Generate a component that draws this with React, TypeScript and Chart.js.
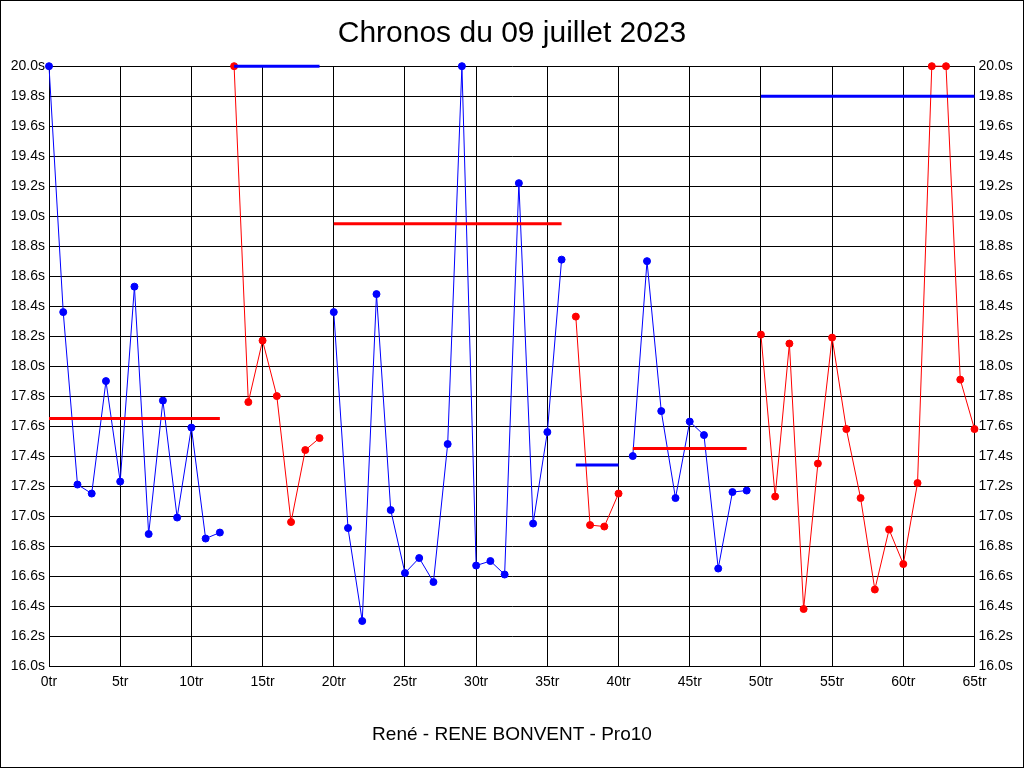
import React, { useEffect, useRef } from "react";
import { Chart, registerables } from "chart.js";

Chart.register(...registerables);

const titleText = "Chronos du 09 juillet 2023";
const footerText = "René - RENE BONVENT - Pro10";

// lap times (seconds), one per lap index 0..65
const lapTimes = [
  20.0, 18.36, 17.21, 17.15, 17.9, 17.23, 18.53, 16.88, 17.77, 16.99, 17.59, 16.85, 16.89,
  20.0, 17.76, 18.17, 17.8, 16.96, 17.44, 17.52,
  18.36, 16.92, 16.3, 18.48, 17.04, 16.62, 16.72, 16.56, 17.48, 20.0, 16.67, 16.7, 16.61, 19.22, 16.95, 17.56, 18.71,
  18.33, 16.94, 16.93, 17.15,
  17.4, 18.7, 17.7, 17.12, 17.63, 17.54, 16.65, 17.16, 17.17,
  18.21, 17.13, 18.15, 16.38, 17.35, 18.19, 17.58, 17.12, 16.51, 16.91, 16.68, 17.22, 20.0, 20.0, 17.91, 17.58,
];

// first lap of each run (and the end sentinel)
const runStarts = [0, 13, 20, 37, 41, 50, 66];
// colour of each run
const runColors = ["#0000FF", "#FF0000", "#0000FF", "#FF0000", "#0000FF", "#FF0000"];
// average drawn over each run (in the opposite colour)
const runAverages = [17.65, 20.0, 18.95, 17.34, 17.45, 19.8];
const averageColors = ["#FF0000", "#0000FF", "#FF0000", "#0000FF", "#FF0000", "#0000FF"];

const xTickStep = 5;
const yMin = 16;
const yMax = 20;
const yStep = 0.2;
const xMax = 65;

export default function App() {
  const ref = useRef<HTMLCanvasElement | null>(null);

  useEffect(() => {
    if (!ref.current) return;
    Chart.defaults.font.family = "'Liberation Sans', Arial, sans-serif";
    Chart.defaults.color = "#000";

    const datasets: any[] = [];
    for (let r = 0; r < runStarts.length - 1; r++) {
      const s = runStarts[r];
      const e = runStarts[r + 1] - 1;
      datasets.push({
        label: "avg" + r,
        data: [
          { x: s, y: runAverages[r] },
          { x: e, y: runAverages[r] },
        ],
        borderColor: averageColors[r],
        backgroundColor: averageColors[r],
        borderWidth: 3,
        pointRadius: 0,
        order: 0,
        clip: false,
      });
    }
    for (let r = 0; r < runStarts.length - 1; r++) {
      const pts: { x: number; y: number }[] = [];
      for (let i = runStarts[r]; i < runStarts[r + 1]; i++) pts.push({ x: i, y: lapTimes[i] });
      datasets.push({
        label: "run" + r,
        data: pts,
        borderColor: runColors[r],
        backgroundColor: runColors[r],
        pointBackgroundColor: runColors[r],
        pointBorderColor: runColors[r],
        borderWidth: 1,
        pointRadius: 3.5,
        pointBorderWidth: 1,
        order: 1,
        clip: false,
        tension: 0,
      });
    }

    const borderPlugin = {
      id: "frameBorder",
      afterDraw(chart: any) {
        const c = chart.ctx;
        c.save();
        c.strokeStyle = "#000";
        c.lineWidth = 1;
        c.strokeRect(0.5, 0.5, chart.width - 1, chart.height - 1);
        c.restore();
      },
      beforeDraw(chart: any) {
        const c = chart.ctx;
        c.save();
        c.fillStyle = "#fff";
        c.fillRect(0, 0, chart.width, chart.height);
        c.restore();
      },
    };

    const yTick = (v: any) => Number(v).toFixed(1) + "s";

    const chart = new Chart(ref.current, {
      type: "line",
      data: { datasets },
      plugins: [borderPlugin],
      options: {
        responsive: false,
        animation: false,
        events: [],
        parsing: false as any,
        layout: { padding: 0 },
        plugins: {
          legend: { display: false },
          tooltip: { enabled: false },
          title: {
            display: true,
            text: titleText,
            font: { size: 30, weight: "normal" },
            color: "#000",
            padding: { top: 15.8, bottom: 14.4 },
          },
          subtitle: {
            display: true,
            text: footerText,
            position: "bottom",
            font: { size: 19, weight: "normal" },
            color: "#000",
            padding: { top: 0, bottom: 22.3 },
          },
        },
        scales: {
          x: {
            type: "linear",
            min: 0,
            max: xMax,
            afterFit: (s: any) => {
              s.height = 56.9;
            },
            ticks: {
              stepSize: xTickStep,
              autoSkip: false,
              maxRotation: 0,
              padding: 8,
              font: { size: 14 },
              color: "#000",
              callback: (v: any) => v + "tr",
            },
            grid: { color: "#000", lineWidth: 1, drawTicks: false },
            border: { color: "#000", width: 1 },
          },
          y: {
            type: "linear",
            position: "left",
            min: yMin,
            max: yMax,
            afterFit: (s: any) => {
              s.width = 49;
            },
            ticks: {
              stepSize: yStep,
              autoSkip: false,
              padding: 4,
              font: { size: 14 },
              color: "#000",
              callback: yTick,
            },
            grid: { color: "#000", lineWidth: 1, drawTicks: false },
            border: { color: "#000", width: 1 },
          },
          y1: {
            type: "linear",
            position: "right",
            min: yMin,
            max: yMax,
            afterFit: (s: any) => {
              s.width = 49.5;
            },
            ticks: {
              stepSize: yStep,
              autoSkip: false,
              padding: 4,
              font: { size: 14 },
              color: "#000",
              callback: yTick,
            },
            grid: { display: false, drawTicks: false },
            border: { color: "#000", width: 1 },
          },
        },
      } as any,
    });
    return () => chart.destroy();
  }, []);

  return (
    <div style={{ position: "fixed", left: 0, top: 0, width: 1024, height: 768, background: "#fff" }}>
      <canvas ref={ref} width={1024} height={768} style={{ display: "block" }} />
    </div>
  );
}
